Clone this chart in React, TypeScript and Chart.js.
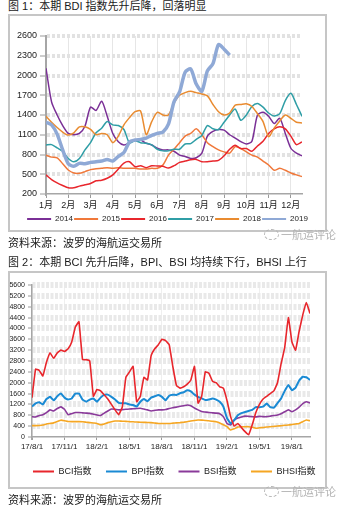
import React, { useEffect, useRef } from 'react';
import { Chart, registerables } from 'chart.js';

Chart.register(...registerables);

const FONT = '"Liberation Sans", "Noto Sans CJK SC", sans-serif';
Chart.defaults.font.family = FONT;
Chart.defaults.color = '#222';

// ---------- Figure 1: BDI by year (4 readings per month) ----------
const MONTH_LABELS = ['1月', '2月', '3月', '4月', '5月', '6月', '7月', '8月', '9月', '10月', '11月', '12月'];
const YEARS = ['2014', '2015', '2016', '2017', '2018', '2019'];

const BDI_2014 = [2110, 1600, 1400, 1240, 1120, 1100, 1120, 1230, 1520, 1470, 1610, 1380, 1120, 995, 945, 980, 1020, 1020, 970, 945, 895, 870, 870, 850, 790, 770, 740, 750, 820, 1080, 1150, 1180, 1170, 1100, 1050, 995, 960, 1000, 1400, 1440, 1380, 1270, 1350, 1120, 895, 820, 780];
const BDI_2015 = [790, 760, 750, 660, 565, 520, 515, 540, 570, 585, 590, 600, 590, 600, 590, 590, 590, 580, 580, 590, 590, 640, 790, 880, 980, 1080, 1120, 1190, 1100, 980, 920, 870, 840, 820, 920, 890, 840, 790, 760, 700, 640, 560, 590, 560, 520, 490, 465];
const BDI_2016 = [490, 420, 370, 330, 295, 295, 320, 340, 360, 400, 410, 440, 490, 580, 670, 690, 615, 630, 600, 630, 625, 620, 595, 630, 680, 700, 720, 725, 690, 690, 700, 710, 780, 880, 940, 890, 890, 850, 930, 1000, 1120, 1190, 1220, 1190, 1080, 950, 990];
const BDI_2017 = [945, 950, 900, 850, 740, 690, 740, 870, 980, 1130, 1200, 1300, 1250, 1240, 1180, 975, 1010, 980, 970, 945, 880, 855, 855, 880, 880, 960, 965, 1030, 1090, 1240, 1190, 1180, 1290, 1400, 1490, 1320, 1400, 1530, 1575, 1520, 1430, 1385, 1420, 1620, 1730, 1560, 1380];
const BDI_2018 = [1380, 1290, 1210, 1140, 1095, 1130, 1220, 1220, 1180, 1100, 1120, 1100, 980, 1080, 1250, 1360, 1450, 1460, 1100, 1300, 1440, 1400, 1400, 1580, 1700, 1740, 1760, 1740, 1720, 1690, 1560, 1450, 1400, 1430, 1550, 1560, 1570, 1530, 1420, 1300, 1070, 1200, 1310, 1400, 1350, 1290, 1280];
const BDI_2019 = [1290, 1250, 1110, 870, 660, 620, 665, 660, 680, 690, 700, 725, 700, 770, 830, 990, 1020, 1030, 1050, 1090, 1120, 1140, 1260, 1600, 1750, 2050, 2100, 1870, 1760, 2070, 2180, 2470, 2400, 2310];
const BDI_SERIES = [BDI_2014, BDI_2015, BDI_2016, BDI_2017, BDI_2018, BDI_2019];
const YEAR_COLORS = ['#7a2f96', '#f0783a', '#e8262c', '#2f9ea6', '#e98b30', '#8fa9d6'];

// ---------- Figure 2: BCI / BPI / BSI / BHSI (3 readings per month from 17/8/1) ----------
const DATE_TICKS = ['17/8/1', '17/11/1', '18/2/1', '18/5/1', '18/8/1', '18/11/1', '19/2/1', '19/5/1', '19/8/1'];
const INDEX_NAMES = ['BCI指数', 'BPI指数', 'BSI指数', 'BHSI指数'];
const BCI = [1450, 2500, 2450, 2250, 2750, 3100, 2900, 3100, 3200, 3150, 3250, 3500, 4050, 4250, 2850, 2850, 2800, 1500, 1750, 1700, 1550, 1400, 1200, 1000, 820, 1100, 2200, 2400, 2600, 1300, 1500, 2200, 2100, 3000, 3250, 3400, 3600, 3550, 3400, 2600, 1900, 1800, 1850, 1950, 2100, 2600, 1250, 1500, 2400, 2350, 2050, 2000, 1850, 1800, 1350, 750, 400, 500, 350, 200, 80, 450, 900, 1200, 1400, 1500, 1600, 1700, 2000, 2700, 3300, 4400, 3500, 3200, 3900, 4500, 4950, 4550];
const BPI = [1120, 1240, 1280, 1200, 1400, 1480, 1350, 1500, 1600, 1450, 1380, 1420, 1600, 1600, 1380, 1300, 1380, 1420, 1300, 1450, 1550, 1560, 1480, 1380, 1260, 1240, 1240, 1200, 1180, 1120, 1300, 1400, 1320, 1450, 1500, 1550, 1480, 1350, 1520, 1560, 1550, 1610, 1650, 1720, 1680, 1560, 1480, 1420, 1360, 1380, 1420, 1380, 1300, 1120, 700, 500, 620, 800, 880, 920, 960, 1000, 1100, 1100, 1120, 1230, 1100, 1080, 1250, 1420, 1700, 1920, 1720, 1820, 2080, 2220, 2200, 2100];
const BSI = [750, 740, 790, 820, 900, 1000, 960, 1050, 1110, 1020, 820, 860, 900, 900, 890, 880, 870, 840, 810, 790, 880, 960, 1030, 1020, 1000, 1010, 1020, 1030, 1040, 1050, 1060, 1030, 1000, 960, 980, 1000, 1000, 1010, 1050, 1080, 1100, 1130, 1150, 1180, 1150, 1070, 1000, 940, 920, 900, 890, 880, 860, 750, 500, 440, 620, 700, 740, 770, 760, 750, 740, 760, 750, 750, 770, 790, 810, 860, 930, 1000, 930, 1000, 1100, 1230, 1300, 1250];
const BHSI = [420, 420, 425, 440, 480, 500, 520, 570, 620, 600, 570, 565, 565, 565, 560, 545, 530, 515, 500, 450, 480, 530, 565, 590, 590, 580, 575, 565, 560, 550, 545, 540, 535, 530, 515, 500, 500, 500, 500, 510, 520, 530, 545, 560, 590, 610, 625, 620, 610, 600, 580, 560, 520, 450, 380, 260, 300, 370, 380, 380, 380, 360, 320, 340, 350, 370, 380, 390, 405, 415, 430, 440, 460, 480, 500, 565, 625, 600];
const INDEX_SERIES = [BCI, BPI, BSI, BHSI];
const INDEX_COLORS = ['#e8262c', '#1a8ad4', '#8a3a9a', '#f5a623'];

function toPoints(values: number[], step: number) {
  return values.map((v, i) => ({ x: i * step, y: v }));
}

function shiftLegend(left: number, right: number) {
  return {
    id: 'shiftLegend',
    afterLayout(chart: any) {
      const lg = chart.legend;
      if (lg) {
        lg.left = left;
        lg.right = right;
      }
    },
  };
}

function flatLegendLabels(chart: any) {
  const items = Chart.defaults.plugins.legend.labels.generateLabels(chart);
  return items
    .map((it: any) => ({ ...it, lineWidth: 0, fillStyle: it.strokeStyle }))
    .sort((a: any, b: any) => a.datasetIndex - b.datasetIndex);
}

const plainNumber = (v: number | string) => String(v);

function bdiConfig(): any {
  return {
    type: 'line',
    data: {
      datasets: YEARS.map((label, k) => ({
        label,
        data: toPoints(BDI_SERIES[k], 1 / 4),
        borderColor: YEAR_COLORS[k],
        backgroundColor: YEAR_COLORS[k],
        borderWidth: k === 5 ? 3.5 : 1.5,
        pointRadius: 0,
        tension: 0.25,
        order: YEARS.length - 1 - k,
      })),
    },
    options: {
      animation: false,
      responsive: true,
      maintainAspectRatio: false,
      layout: { padding: { left: 0, top: 20, right: 23, bottom: 0 } },
      plugins: {
        tooltip: { enabled: false },
        legend: {
          position: 'bottom',
          labels: {
            boxWidth: 24,
            boxHeight: 2,
            padding: 1.2,
            font: { size: 8 },
            color: '#222',
            generateLabels: flatLegendLabels,
          },
        },
      },
      scales: {
        x: {
          type: 'linear',
          min: 0,
          max: 11.5,
          afterFit: (s: any) => { s.height = 19.8; },
          ticks: {
            stepSize: 1,
            includeBounds: false,
            autoSkip: false,
            maxRotation: 0,
            padding: 2,
            font: { size: 9 },
            color: '#222',
            callback: (v: number) => MONTH_LABELS[Math.round(v)],
          },
          grid: { color: '#e6e6e6', lineWidth: 1, tickLength: 4, tickColor: '#9a9a9a', tickWidth: 1 },
          border: { color: '#a6a6a6', width: 1.5 },
        },
        y: {
          min: 200,
          max: 2600,
          afterFit: (s: any) => { s.width = 36; },
          ticks: { stepSize: 300, autoSkip: false, padding: 3, font: { size: 9 }, color: '#222', callback: plainNumber },
          grid: {
            color: (c: any) => (c.tick && c.tick.value === 200 ? 'rgba(0,0,0,0)' : '#e2e2e2'),
            lineWidth: 4,
            tickLength: 6,
            tickColor: '#9a9a9a',
            tickWidth: 1,
          },
          border: { color: '#a6a6a6', width: 2, dash: [3, 2] },
        },
      },
    },
    plugins: [shiftLegend(-2, 317)],
  };
}

function indexConfig(): any {
  return {
    type: 'line',
    data: {
      datasets: INDEX_NAMES.map((label, k) => ({
        label,
        data: toPoints(INDEX_SERIES[k], 1),
        borderColor: INDEX_COLORS[k],
        backgroundColor: INDEX_COLORS[k],
        borderWidth: k === 1 ? 2 : 1.6,
        pointRadius: 0,
        tension: 0.1,
      })),
    },
    options: {
      animation: false,
      responsive: true,
      maintainAspectRatio: false,
      layout: { padding: { left: 0, top: 14, right: 0, bottom: 0 } },
      plugins: {
        tooltip: { enabled: false },
        legend: {
          position: 'bottom',
          labels: {
            boxWidth: 21,
            boxHeight: 2,
            padding: 14.5,
            font: { size: 9 },
            color: '#222',
            generateLabels: flatLegendLabels,
          },
        },
      },
      scales: {
        x: {
          type: 'linear',
          min: 0,
          max: 77,
          afterFit: (s: any) => { s.height = 15.5; },
          ticks: {
            stepSize: 9,
            includeBounds: false,
            autoSkip: false,
            maxRotation: 0,
            padding: 2,
            font: { size: 8 },
            color: '#222',
            callback: (v: number) => DATE_TICKS[Math.round(v / 9)],
          },
          grid: { color: '#efefef', lineWidth: 1, tickLength: 3, tickColor: '#9a9a9a', tickWidth: 1 },
          border: { color: '#a6a6a6', width: 1.5 },
        },
        y: {
          min: 0,
          max: 5600,
          afterFit: (s: any) => { s.width = 24; },
          ticks: { stepSize: 400, autoSkip: false, padding: 3, font: { size: 7 }, color: '#222', callback: plainNumber },
          grid: {
            color: (c: any) => (c.tick && c.tick.value === 0 ? 'rgba(0,0,0,0)' : '#e9e9e9'),
            lineWidth: 6,
            tickLength: 4,
            tickColor: '#9a9a9a',
            tickWidth: 1,
          },
          border: { color: '#a6a6a6', width: 1.5, dash: [3, 1.5] },
        },
        // empty right-hand spacer so the plot ends before the frame while the legend keeps full width
        spacer: {
          type: 'linear',
          position: 'right',
          afterFit: (s: any) => { s.width = 18; },
          ticks: { display: false },
          grid: { display: false, drawTicks: false },
          border: { display: false },
        },
      },
    },
    plugins: [shiftLegend(0, 332.5)],
  };
}

function ChartCanvas({ make, left, top, width, height }: { make: () => any; left: number; top: number; width: number; height: number }) {
  const ref = useRef<HTMLCanvasElement>(null);
  useEffect(() => {
    const chart = new Chart(ref.current as HTMLCanvasElement, make());
    return () => chart.destroy();
  }, []);
  return (
    <div style={{ position: 'absolute', left, top, width, height }}>
      <canvas ref={ref} />
    </div>
  );
}

const textStyle: React.CSSProperties = {
  position: 'absolute',
  left: 8,
  fontFamily: FONT,
  fontSize: 11,
  lineHeight: '12px',
  color: '#1a1a1a',
  whiteSpace: 'nowrap',
};

const boxStyle: React.CSSProperties = {
  position: 'absolute',
  left: 8,
  width: 319,
  height: 218,
  border: '2px solid #c6c6c6',
  boxSizing: 'border-box',
};

function Watermark({ top }: { top: number }) {
  return (
    <div style={{ position: 'absolute', left: 264, top, display: 'flex', alignItems: 'center', fontFamily: FONT, fontSize: 11, color: '#b4b4b4', whiteSpace: 'nowrap' }}>
      <span style={{ display: 'inline-block', width: 13, height: 9, border: '1px dashed #b4b4b4', borderRadius: '50%', marginRight: 2 }} />
      <span>一航运评论</span>
    </div>
  );
}

export default function App() {
  return (
    <div style={{ position: 'fixed', left: 0, top: 0, width: 340, height: 517, background: '#fff', overflow: 'hidden' }}>
      <div style={{ ...textStyle, top: 0 }}>图 1：本期 BDI 指数先升后降，回落明显</div>
      <div style={{ ...boxStyle, top: 14 }} />
      <ChartCanvas make={bdiConfig} left={10} top={16} width={315} height={217} />
      <Watermark top={226} />
      <div style={{ ...textStyle, top: 237 }}>资料来源：波罗的海航运交易所</div>
      <div style={{ ...textStyle, top: 256 }}>图 2：本期 BCI 先升后降，BPI、BSI 均持续下行，BHSI 上行</div>
      <div style={{ ...boxStyle, top: 271 }} />
      <ChartCanvas make={indexConfig} left={8} top={271} width={320} height={215} />
      <Watermark top={483} />
      <div style={{ ...textStyle, top: 494 }}>资料来源：波罗的海航运交易所</div>
    </div>
  );
}
